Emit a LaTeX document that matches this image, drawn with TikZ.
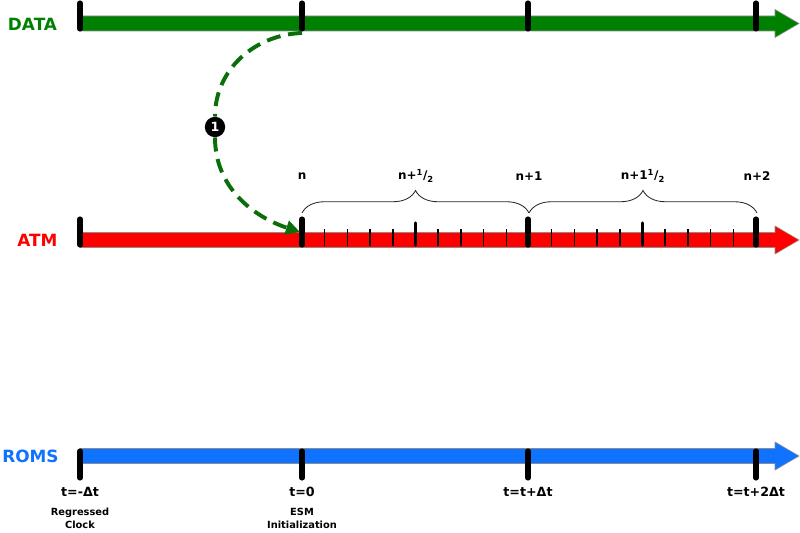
\documentclass[tikz,border=0pt]{standalone}
\usepackage{fontspec}
\setmainfont{DejaVu Sans}
\usetikzlibrary{positioning,shapes,decorations.pathreplacing,arrows.meta}

\definecolor{datagreen}{RGB}{0,128,0}
\definecolor{flowgreen}{RGB}{10,110,10}
\definecolor{atmred}{RGB}{255,0,0}
\definecolor{romsblue}{RGB}{15,115,255}

\begin{document}
\begin{tikzpicture}[%
        x=0.025cm, y=0.025cm,
        node distance=1pt,
        bar/.style={draw=black!45, line width=0.4pt},
        bigtick/.style={line width=3.6pt, line cap=round},
        halftick/.style={line width=2.4pt, line cap=round},
        smalltick/.style={line width=1.1pt},
        curly/.style={decorate, decoration={brace, amplitude=16pt}, line width=0.6pt, black!85},
        modelname/.style={font=\fontsize{12}{14}\selectfont\bfseries},
        steplabel/.style={font=\fontsize{8.5}{10}\selectfont\bfseries},
        timelabel/.style={font=\fontsize{9}{11}\selectfont\bfseries},
        note/.style={font=\fontsize{7}{9.2}\selectfont\bfseries, align=center},
        flow/.style={flowgreen, line width=2.8pt, dash pattern=on 10pt off 5.5pt},
        marker/.style={circle, fill=black, text=white, inner sep=0pt, minimum size=14.5pt, font=\fontsize{9}{9}\selectfont\bfseries}
      ]
      \useasboundingbox (0,0) rectangle (800,532);

      % the three time lines
      \foreach \c/\y in {datagreen/508.5, atmred/292, romsblue/76}
        \filldraw[bar, fill=\c] (80,\y-7.5) -- (775,\y-7.5) -- (775,\y-14) -- (799,\y)
          -- (775,\y+14) -- (775,\y+7.5) -- (80,\y+7.5) -- cycle;

      \node[modelname, text=datagreen] (data) at (32.5,508) {DATA};
      \node[modelname, text=atmred] (atm) at (37.5,292) {ATM};
      \node[modelname, text=romsblue] (roms) at (30.5,76) {ROMS};

      % ticks
      \foreach \x in {80,302,528,756} {
        \draw[bigtick] (\x,503) -- (\x,529);
        \draw[bigtick] (\x,287) -- (\x,313);
        \draw[bigtick] (\x,54) -- (\x,81);
      }
      \foreach \i in {1,2,3,4,6,7,8,9,11,12,13,14,16,17,18,19}
        \draw[smalltick] (302+\i*22.7,285.5) -- (302+\i*22.7,303);
      \foreach \i in {5,15}
        \draw[halftick] (302+\i*22.7,287) -- (302+\i*22.7,309);

      % ATM steps
      \draw[curly] (302,319) -- (529,319);
      \draw[curly] (529,319) -- (757,319);
      \node[steplabel] (s0) at (302,356) {n};
      \node[steplabel] (s1) at (416,356) {n+\textsuperscript{1}/\textsubscript{2}};
      \node[steplabel] (s2) at (529,356) {n+1};
      \node[steplabel] (s3) at (643,356) {n+1\textsuperscript{1}/\textsubscript{2}};
      \node[steplabel] (s4) at (757,356) {n+2};

      % ROMS times
      \node[timelabel] (t0) at (80,40) {t=-Δt};
      \node[timelabel] (t1) at (302,40) {t=0};
      \node[timelabel] (t2) at (528,40) {t=t+Δt};
      \node[timelabel] (t3) at (756,40) {t=t+2Δt};
      \node[note] (n0) [below=of t0] {Regressed\\Clock};
      \node[note] (n1) [below=of t1] {ESM\\Initialization};

      % data to ATM
      \coordinate (from) at (302,499);
      \coordinate (to) at (300,300);
      \node[marker] (one) at (215,405) {1};
      \draw[flow] (from) to[out=182,in=90] (one.north);
      \draw[flow, -{Triangle[length=10pt,width=10pt]}] (one.south) to[out=-90,in=162] (to);

  \end{tikzpicture}
\end{document}
